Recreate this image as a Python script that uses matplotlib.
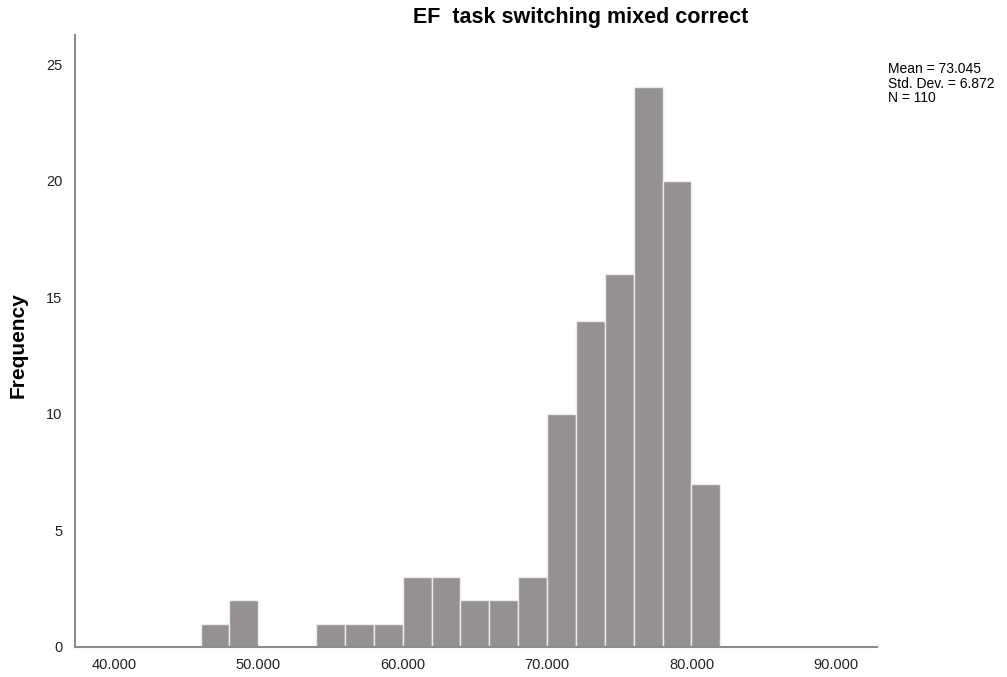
import matplotlib
matplotlib.use("Agg")
import matplotlib.pyplot as plt

plt.rcParams['font.family'] = ['Liberation Sans', 'DejaVu Sans']

# histogram bins (left edges, width 2) and frequencies
bin_left = [46, 48, 50, 52, 54, 56, 58, 60, 62, 64, 66, 68, 70, 72, 74, 76, 78, 80]
counts = [1, 2, 0, 0, 1, 1, 1, 3, 3, 2, 2, 3, 10, 14, 16, 24, 20, 7]
bin_width = 2

x_ticks = [40, 50, 60, 70, 80, 90]
y_ticks = [0, 5, 10, 15, 20, 25]

title = "EF  task switching mixed correct"
stats = "Mean = 73.045\nStd. Dev. = 6.872\nN = 110"

fig = plt.figure(figsize=(10.07, 6.77), dpi=100)
ax = fig.add_axes([75 / 1007, 30 / 677, 802 / 1007, 612 / 677])

ax.bar(bin_left, counts, width=bin_width, align='edge',
       color='#959190', edgecolor='#ececec', linewidth=1.0)

ax.set_xlim(37.3, 92.85)
ax.set_ylim(0, 26.25)
ax.set_xticks(x_ticks)
ax.set_xticklabels([f"{v:.3f}" for v in x_ticks])
ax.set_yticks(y_ticks)
ax.tick_params(length=0, labelsize=10.5, colors='#222222')
ax.tick_params(axis='x', pad=8)
ax.tick_params(axis='y', pad=9)

for side in ['top', 'right']:
    ax.spines[side].set_visible(False)
for side in ['left', 'bottom']:
    ax.spines[side].set_color('#8c8c8c')
    ax.spines[side].set_linewidth(1.5)

fig.text(581 / 1007, 1 - 17 / 677, title, ha='center', va='center',
         fontsize=15.5, fontweight='bold')
fig.text(18 / 1007, 1 - 345 / 677, "Frequency", ha='center', va='center',
         rotation=90, fontsize=15, fontweight='bold')
fig.text(888 / 1007, 1 - 62 / 677, stats, ha='left', va='top',
         fontsize=10, linespacing=1.05)

fig.savefig("out.png", dpi=100)
